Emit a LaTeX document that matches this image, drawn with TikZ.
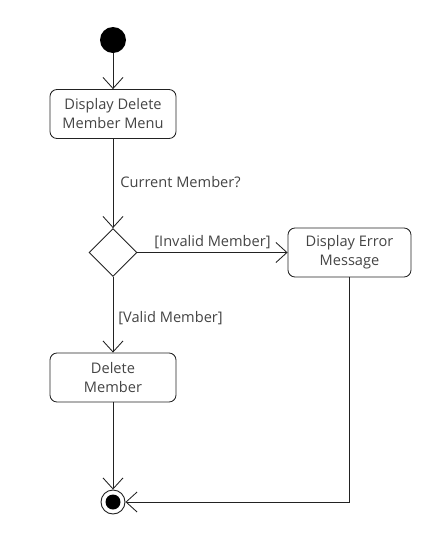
\documentclass[tikz,border=0pt]{standalone}
\usepackage{fontspec}
\setmainfont{Open Sans}
\usetikzlibrary{arrows.meta,shapes.geometric}
\definecolor{ln}{HTML}{222222}
\definecolor{tx}{HTML}{444444}
\begin{document}
\begin{tikzpicture}[x=1pt,y=-1pt,
  line width=0.85pt,
  flow/.style={draw=ln,-{Straight Barb[length=11pt,width=20pt,line width=0.85pt]}},
  act/.style={draw=ln,rounded corners=7pt,minimum width=126pt,minimum height=49pt,align=center,text=tx,font=\fontsize{14.6}{19}\selectfont,inner sep=0pt},
  lbl/.style={text=tx,font=\fontsize{14.6}{18}\selectfont,inner sep=0pt}]
\useasboundingbox (0,0) rectangle (447,555);
\node[circle,fill=black,minimum size=26pt,inner sep=0pt] (start) at (113,40) {};
\node[act] (menu) at (113,114) {Display Delete\\Member Menu};
\node[diamond,draw=ln,minimum width=48pt,minimum height=48pt,inner sep=0pt] (dec) at (113,252.5) {};
\node[act,minimum width=123pt] (err) at (349.5,252.5) {Display Error\\Message};
\node[act] (del) at (113,377.5) {Delete\\Member};
\node[circle,draw=ln,line width=0.9pt,minimum size=24pt,inner sep=0pt] (fin) at (113,502) {};
\node[circle,fill=black,minimum size=15pt,inner sep=0pt] at (fin) {};
\coordinate (corner) at (err.south |- fin);
\draw[flow] (start) -- (menu);
\draw[flow] (menu) -- node[lbl,anchor=west,xshift=7pt,pos=0.48] {Current Member?} (dec);
\draw[flow] (dec) -- node[lbl,anchor=south,yshift=3pt] {[Invalid Member]} (err);
\draw[flow] (dec) -- node[lbl,anchor=west,xshift=5pt,pos=0.55] {[Valid Member]} (del);
\draw[flow] (del) -- (fin);
\draw[flow] (err.south) -- (corner) -- (fin);
\end{tikzpicture}
\end{document}
